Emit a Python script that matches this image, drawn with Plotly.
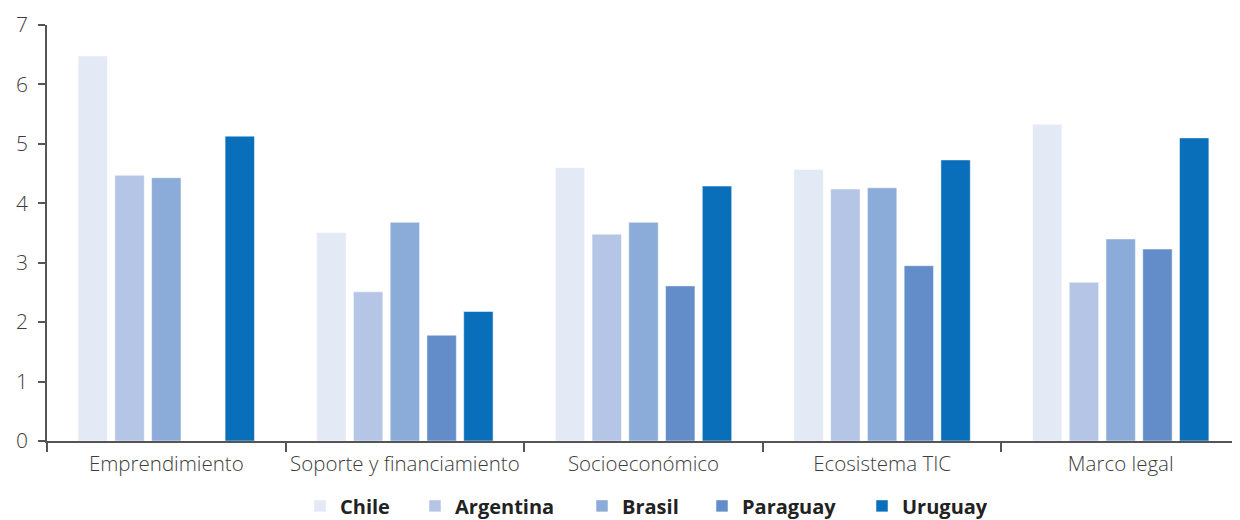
import plotly.graph_objects as go

categories = ["Emprendimiento", "Soporte y financiamiento", "Socioeconómico",
              "Ecosistema TIC", "Marco legal"]
chile = [6.48, 3.51, 4.60, 4.57, 5.33]
argentina = [4.47, 2.51, 3.48, 4.24, 2.67]
brasil = [4.43, 3.68, 3.68, 4.26, 3.40]
paraguay = [None, 1.78, 2.61, 2.95, 3.23]
uruguay = [5.13, 2.18, 4.29, 4.73, 5.10]

series = [
    ("Chile", chile, "#E3E9F5", 70),
    ("Argentina", argentina, "#B4C5E6", 122),
    ("Brasil", brasil, "#8BABD8", 75),
    ("Paraguay", paraguay, "#628DC8", 115),
    ("Uruguay", uruguay, "#0A6FBA", 80),
]

fig = go.Figure()
for name, vals, color, lw in series:
    fig.add_trace(go.Bar(
        x=categories, y=vals, name=name, legendwidth=lw,
        marker=dict(color=color, line=dict(color="rgba(255,255,255,0.5)", width=1)),
    ))

# page body has an 8px margin, so the figure is a bit smaller than the window
fig.update_layout(
    width=1232, height=512,
    barmode="group", bargap=0.23, bargroupgap=0.2,
    plot_bgcolor="white", paper_bgcolor="white",
    margin=dict(l=39, r=0, t=17, b=79, autoexpand=False),
    font=dict(family="Open Sans", size=20, color="#3d3d3d"),
    legend=dict(
        orientation="h", x=0.5, xanchor="center", y=-0.156, yanchor="middle",
        font=dict(family="Open Sans", size=20, color="#222222", weight="bold"),
        itemwidth=30, traceorder="normal",
    ),
)
fig.update_yaxes(
    range=[0, 7], dtick=1, showgrid=False, zeroline=False, automargin=False,
    showline=True, linecolor="#555555", linewidth=1.5,
    ticks="outside", ticklen=7, tickcolor="#555555", tickwidth=1.5,
    ticklabelstandoff=6, ticklabeloverflow="allow",
    tickfont=dict(size=21, color="#3d3d3d", weight=300),
)
fig.update_xaxes(
    showgrid=False, showline=True, linecolor="#555555", linewidth=1.5, automargin=False,
    ticks="outside", tickson="boundaries", ticklen=9, tickcolor="#555555", tickwidth=1.5,
    ticklabelstandoff=4, tickangle=0,
    tickfont=dict(size=20.5, color="#3d3d3d", weight=300),
)

fig.write_html("out.html")
